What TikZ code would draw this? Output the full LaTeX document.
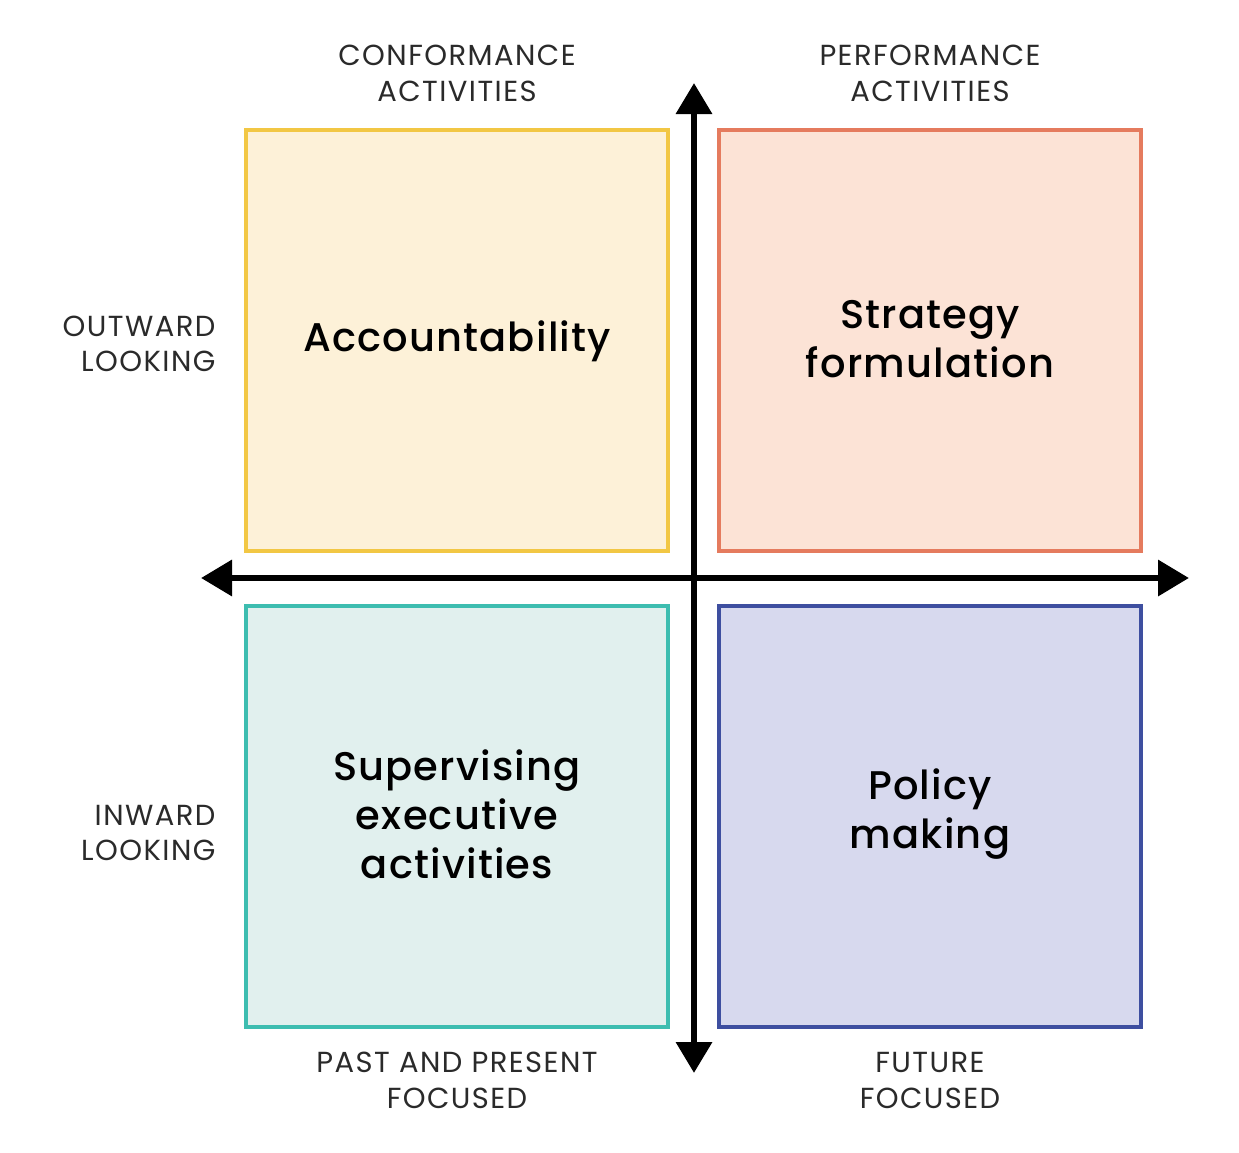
\documentclass[tikz,border=0pt]{standalone}
\usepackage{fontspec}
\setmainfont{Poppins}
\newfontfamily\bigfont[LetterSpace=3]{Poppins Medium}
\newfontfamily\labfont[LetterSpace=5]{Poppins}
\usetikzlibrary{arrows.meta}
\definecolor{yelB}{HTML}{F2C744}
\definecolor{yelF}{HTML}{FDF1D8}
\definecolor{redB}{HTML}{E57B5E}
\definecolor{redF}{HTML}{FCE3D6}
\definecolor{tealB}{HTML}{3DBDB0}
\definecolor{tealF}{HTML}{E1F0EE}
\definecolor{bluB}{HTML}{3E4FA0}
\definecolor{bluF}{HTML}{D7D9EE}
\definecolor{labC}{HTML}{2A2A2A}
\begin{document}
\begin{tikzpicture}[x=1pt,y=-1pt,
  quad/.style={draw=#1B,fill=#1F,line width=4pt,minimum width=422pt,minimum height=421pt,inner sep=0pt},
  big/.style={align=center,font=\bigfont\fontsize{40}{49}\selectfont,text=black},
  lab/.style={align=center,font=\labfont\fontsize{29}{36}\selectfont,text=labC},
  labr/.style={align=right,font=\labfont\fontsize{29}{35}\selectfont,text=labC,anchor=east},
  axis/.style={line width=6.5pt,-{Triangle[length=31pt,width=35pt]}}]
\useasboundingbox (0,0) rectangle (1239,1152);
\fill[white] (0,0) rectangle (1239,1152);
\node[quad=yel] (tl) at (457,340.5) {};
\node[quad=red] (tr) at (930,340.5) {};
\node[quad=teal] (bl) at (457,816) {};
\node[quad=blu] (br) at (930,816) {};
\coordinate (c) at (694,578);
\coordinate (top) at (694,83);
\coordinate (bot) at (694,1073);
\coordinate (lft) at (201,578);
\coordinate (rgt) at (1189,578);
\draw[axis] (c) -- (top);
\draw[axis] (c) -- (bot);
\draw[axis] (c) -- (lft);
\draw[axis] (c) -- (rgt);
\fill (c) circle (3.25pt);
\node[big] (t1) at (457,341) {Accountability};
\node[big] (t2) at (930,339) {Strategy\\formulation};
\node[big] (t3) at (457,814) {Supervising\\executive\\activities};
\node[big] (t4) at (930,814) {Policy\\making};
\node[lab] (l1) at (457,73) {CONFORMANCE\\ACTIVITIES};
\node[lab] (l2) at (930,73) {PERFORMANCE\\ACTIVITIES};
\node[labr] (l3) at (219,344) {OUTWARD\\LOOKING};
\node[labr] (l4) at (219,833) {INWARD\\LOOKING};
\node[lab] (l5) at (457,1080) {PAST AND PRESENT\\FOCUSED};
\node[lab] (l6) at (930,1080) {FUTURE\\FOCUSED};
\end{tikzpicture}
\end{document}
